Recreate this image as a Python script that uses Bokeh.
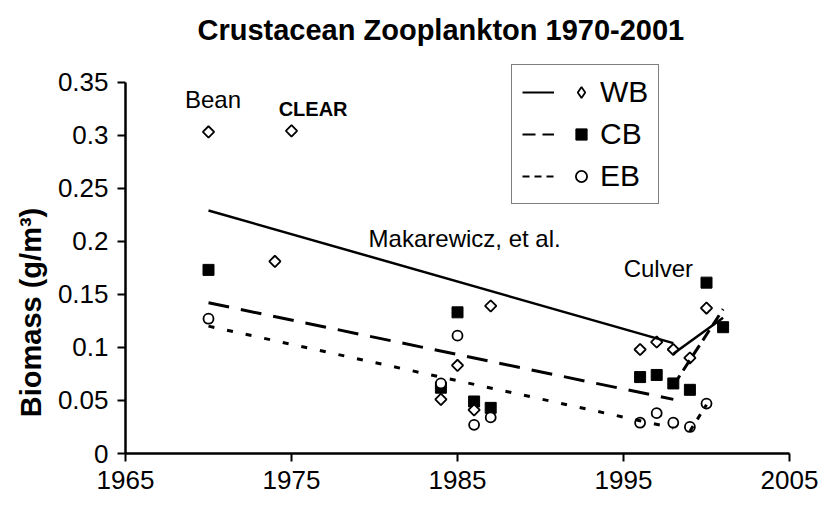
import math
from bokeh.plotting import figure
from bokeh.models import Range1d, FixedTicker, Legend, LegendItem, Label
from bokeh.core.properties import value
from bokeh.embed import file_html
from bokeh.resources import INLINE

# ---------------- data ----------------
title_text = "Crustacean Zooplankton 1970-2001"
y_label = "Biomass (g/m³)"
x_ticks = [1965, 1975, 1985, 1995, 2005]
x_tick_labels = ["1965", "1975", "1985", "1995", "2005"]
y_ticks = [0, 0.05, 0.1, 0.15, 0.2, 0.25, 0.3, 0.35]
y_tick_labels = ["0", "0.05", "0.1", "0.15", "0.2", "0.25", "0.3", "0.35"]

series_names = ["WB", "CB", "EB"]

wb_years = [1970, 1974, 1975, 1984, 1985, 1986, 1987, 1996, 1997, 1998, 1999, 2000]
wb_vals = [0.303, 0.181, 0.304, 0.051, 0.083, 0.041, 0.139, 0.098, 0.105, 0.098, 0.090, 0.137]

cb_years = [1970, 1984, 1985, 1986, 1987, 1996, 1997, 1998, 1999, 2000, 2001]
cb_vals = [0.173, 0.062, 0.133, 0.049, 0.043, 0.072, 0.074, 0.066, 0.060, 0.161, 0.119]

eb_years = [1970, 1984, 1985, 1986, 1987, 1996, 1997, 1998, 1999, 2000]
eb_vals = [0.127, 0.066, 0.111, 0.027, 0.034, 0.029, 0.038, 0.029, 0.025, 0.047]

# trend lines (Makarewicz et al., 1970-1998)
mak_years = [1970, 1998]
mak_wb = [0.229, 0.104]
mak_cb = [0.142, 0.051]
mak_eb = [0.120, 0.024]

# trend lines (Culver)
cul_years = [1998, 2001]
cul_wb = [0.094, 0.128]
cul_cb = [0.064, 0.136]
cul_eb_years = [1999, 2000]
cul_eb = [0.021, 0.046]

FONT = "Liberation Sans"
NAN = float("nan")
EMSP = "\u2003"

p = figure(width=819, height=508, output_backend="svg", toolbar_location=None,
           x_range=Range1d(1965, 2005), y_range=Range1d(0, 0.375),
           min_border_left=125, min_border_right=30, min_border_top=55,
           min_border_bottom=55)

p.title.text = title_text
p.title.text_font = FONT
p.title.text_font_size = "29px"
p.title.text_font_style = "bold"
p.title.align = "left"
p.title.offset = 72
p.title.text_color = "black"
p.title.vertical_align = "top"
try:
    p.title.standoff = 16
except AttributeError:
    pass

p.xaxis.ticker = FixedTicker(ticks=x_ticks)
p.yaxis.ticker = FixedTicker(ticks=y_ticks)
p.xaxis.major_label_overrides = dict(zip(x_ticks, x_tick_labels))
p.yaxis.major_label_overrides = dict(zip(y_ticks, y_tick_labels))
p.yaxis.bounds = (y_ticks[0], y_ticks[-1])

for ax in (p.xaxis, p.yaxis):
    ax.axis_line_width = 2.5
    ax.axis_line_color = "black"
    ax.major_tick_line_width = 2
    ax.major_tick_line_color = "black"
    ax.major_tick_out = 8
    ax.major_tick_in = 0
    ax.minor_tick_out = 0
    ax.minor_tick_in = 0
    ax.major_label_text_font = FONT
    ax.major_label_text_font_size = "26px"
    ax.major_label_text_color = "black"
    ax.major_label_standoff = 9

# trailing em spaces push the visible title lower along the axis, as in the original
p.yaxis.axis_label = y_label + EMSP * 4
p.yaxis.axis_label_text_font = FONT
p.yaxis.axis_label_text_font_size = "29px"
p.yaxis.axis_label_text_font_style = "bold"
p.yaxis.axis_label_text_color = "black"
p.yaxis.axis_label_standoff = 8

p.grid.visible = False
p.outline_line_color = None

# markers
sq = p.scatter(cb_years, cb_vals, marker="square", size=11,
               fill_color="black", line_color="black")
dm = p.scatter(wb_years, wb_vals, marker="square", angle=math.pi / 4, size=8,
               fill_color="white", line_color="black", line_width=1.8)
ci = p.scatter(eb_years, eb_vals, marker="circle", size=10,
               fill_color="white", line_color="black", line_width=1.8)

# trend lines
p.line(mak_years, mak_wb, line_width=2.5, line_color="black")
p.line(mak_years, mak_cb, line_width=3, line_color="black", line_dash="21 12")
p.line(mak_years, mak_eb, line_width=3, line_color="black", line_dash="6 13")
p.line(cul_years, cul_wb, line_width=2.5, line_color="black")
p.line(cul_years, cul_cb, line_width=3, line_color="black", line_dash="12 6")
p.line(cul_eb_years, cul_eb, line_width=3, line_color="black", line_dash="6 8")

# legend-only renderers (no visible data)
lg_solid = p.line(x=[NAN], y=[NAN], line_width=2, line_color="black")
lg_dash = p.line(x=[NAN], y=[NAN], line_width=2, line_color="black", line_dash="13 7")
lg_dot = p.line(x=[NAN], y=[NAN], line_width=2, line_color="black", line_dash="7 5")
lg_dm = p.scatter(x=[NAN], y=[NAN], marker="diamond", fill_color="white",
                  line_color="black", line_width=1.8)

items = [
    LegendItem(label=value(""), renderers=[lg_solid]),
    LegendItem(label=value(""), renderers=[lg_dash]),
    LegendItem(label=value(""), renderers=[lg_dot]),
    LegendItem(label=value(series_names[0]), renderers=[lg_dm]),
    LegendItem(label=value(series_names[1]), renderers=[sq]),
    LegendItem(label=value(series_names[2]), renderers=[ci]),
]
legend = Legend(items=items, orientation="vertical", location=(386, 249),
                glyph_width=32, glyph_height=28, spacing=8, padding=10,
                label_standoff=3, label_width=0, margin=0,
                label_text_font=FONT, label_text_font_size="30px",
                label_text_color="black",
                border_line_color="black", border_line_width=1.5,
                background_fill_color="white", background_fill_alpha=1)
props = Legend.properties()
if "ncols" in props:
    legend.ncols = 2
if "nrows" in props:
    legend.nrows = 3
p.add_layout(legend, "center")

# annotations
p.add_layout(Label(x=1970.27, y=0.334, text="Bean", text_align="center",
                   text_baseline="alphabetic", text_font=FONT,
                   text_font_size="24px", text_color="black"))
p.add_layout(Label(x=1976.3, y=0.325, text="CLEAR", text_align="center",
                   text_baseline="alphabetic", text_font=FONT,
                   text_font_size="20px", text_font_style="bold",
                   text_color="black"))
p.add_layout(Label(x=1985.43, y=0.203, text="Makarewicz, et al.",
                   text_align="center", text_baseline="alphabetic",
                   text_font=FONT, text_font_size="24px", text_color="black"))
p.add_layout(Label(x=1997.1, y=0.174, text="Culver", text_align="center",
                   text_baseline="alphabetic", text_font=FONT,
                   text_font_size="24px", text_color="black"))

open("out.html", "w").write(file_html(p, INLINE))
